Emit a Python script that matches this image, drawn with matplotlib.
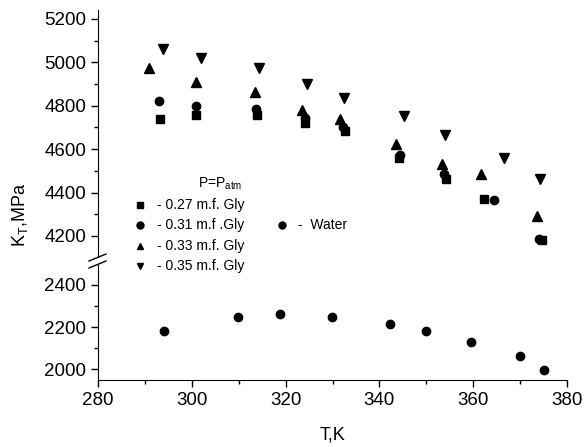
import matplotlib
matplotlib.use("Agg")
import matplotlib.pyplot as plt
from matplotlib.lines import Line2D
from matplotlib.ticker import MultipleLocator

plt.rcParams['font.family'] = ['Liberation Sans', 'DejaVu Sans']

# glycerol solutions, P = P_atm
t_27 = [293.3, 301.0, 313.8, 324.1, 332.7, 344.2, 354.1, 362.2, 374.7]
k_27 = [4739, 4757, 4757, 4720, 4682, 4560, 4464, 4368, 4181]
t_31 = [293.1, 300.9, 313.7, 324.1, 332.2, 344.4, 353.8, 364.4, 374.0]
k_31 = [4824, 4800, 4785, 4743, 4702, 4571, 4487, 4365, 4184]
t_33 = [290.9, 300.9, 313.5, 323.6, 331.7, 343.6, 353.4, 361.7, 373.6]
k_33 = [4976, 4907, 4861, 4779, 4740, 4624, 4532, 4487, 4290]
t_35 = [293.9, 302.0, 314.3, 324.5, 332.5, 345.2, 354.0, 366.6, 374.2]
k_35 = [5061, 5019, 4973, 4901, 4834, 4751, 4667, 4560, 4464]

# water
t_w = [294.1, 309.9, 318.7, 329.8, 342.3, 349.9, 359.5, 370.0, 375.0]
k_w = [2181, 2249, 2260, 2248, 2213, 2181, 2130, 2064, 1997]

W, H = 585, 447
fig = plt.figure(figsize=(5.85, 4.47), dpi=100)

x0, x1 = 98 / W, 567 / W
ax_top = fig.add_axes([x0, 1 - 257 / H, x1 - x0, (257 - 10) / H])
ax_bot = fig.add_axes([x0, 1 - 380 / H, x1 - x0, (380 - 265) / H])

ms = 6
ax_top.plot(t_27, k_27, 's', color='k', ms=ms - 0.5, ls='none')
ax_top.plot(t_31, k_31, 'o', color='k', ms=ms, ls='none')
ax_top.plot(t_33, k_33, '^', color='k', ms=ms + 0.5, ls='none')
ax_top.plot(t_35, k_35, 'v', color='k', ms=ms + 0.5, ls='none')
ax_bot.plot(t_w, k_w, 'o', color='k', ms=ms, ls='none')

for ax in (ax_top, ax_bot):
    ax.set_xlim(280, 380)
    ax.spines['top'].set_visible(False)
    ax.spines['right'].set_visible(False)
    ax.xaxis.set_major_locator(MultipleLocator(20))
    ax.xaxis.set_minor_locator(MultipleLocator(10))
    ax.yaxis.set_major_locator(MultipleLocator(200))
    ax.yaxis.set_minor_locator(MultipleLocator(100))
    ax.tick_params(which='major', direction='out', length=5, width=1, labelsize=13.5)
    ax.tick_params(which='minor', direction='out', length=3, width=1)

ax_top.set_ylim(4103, 5241)
ax_top.spines['bottom'].set_visible(False)
ax_top.tick_params(axis='x', which='both', bottom=False, labelbottom=False)

ax_bot.set_ylim(1948, 2495)
ax_bot.set_xlabel('T,K', fontsize=13)
ax_bot.xaxis.set_label_coords(0.50, -0.40)

fig.text(20 / W, 1 - 215 / H, r'K$_\mathregular{T}$,MPa', rotation=90,
         fontsize=13, ha='center', va='center')

# axis break marks
for yb in (261, 268):
    fig.lines.append(Line2D([89 / W, 106 / W], [1 - yb / H, 1 - (yb - 7) / H],
                            transform=fig.transFigure, color='k', lw=1))

# legend
fig.text(220 / W, 1 - 184 / H, r'P=P$_\mathregular{atm}$', fontsize=10,
         ha='center', va='center')
labels = ['- 0.27 m.f. Gly', '- 0.31 m.f .Gly', '- 0.33 m.f. Gly', '- 0.35 m.f. Gly']
marks = ['s', 'o', '^', 'v']
rows = [205, 225, 246, 266]
for lab, mk, yr in zip(labels, marks, rows):
    fig.lines.append(Line2D([140 / W], [1 - yr / H], transform=fig.transFigure,
                            marker=mk, color='k', ms=5, ls='none'))
    fig.text(157 / W, 1 - yr / H, lab, fontsize=10, va='center')
fig.lines.append(Line2D([282 / W], [1 - 225 / H], transform=fig.transFigure,
                        marker='o', color='k', ms=5, ls='none'))
fig.text(298 / W, 1 - 225 / H, '-  Water', fontsize=10, va='center')

fig.savefig('out.png', dpi=100)
